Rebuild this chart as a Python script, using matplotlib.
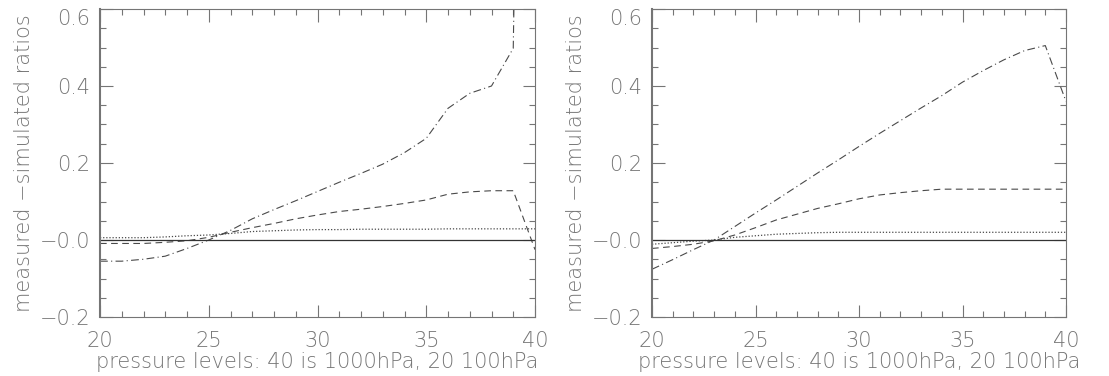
import numpy as np
import matplotlib
matplotlib.use("Agg")
import matplotlib.pyplot as plt
from matplotlib.ticker import MultipleLocator, FixedLocator, FixedFormatter

plt.rcParams["font.weight"] = 200
plt.rcParams["axes.labelweight"] = 200

# niveles de presion (40 = 1000hPa, 20 = 100hPa)
niveles = np.arange(20, 41)

# panel izquierdo
izq_dashdot = [-0.055, -0.055, -0.050, -0.042, -0.022, 0.000, 0.025, 0.055, 0.079, 0.102,
               0.126, 0.150, 0.173, 0.197, 0.227, 0.264, 0.342, 0.381, 0.400, 0.498, 4.0]
izq_dashed = [-0.009, -0.009, -0.009, -0.006, -0.002, 0.007, 0.020, 0.032, 0.043, 0.055,
              0.065, 0.074, 0.080, 0.087, 0.095, 0.104, 0.119, 0.125, 0.128, 0.128, -0.025]
izq_dotted = [0.006, 0.006, 0.006, 0.008, 0.011, 0.013, 0.017, 0.022, 0.024, 0.026,
              0.027, 0.027, 0.028, 0.028, 0.028, 0.028, 0.029, 0.029, 0.029, 0.029, 0.029]

# panel derecho
der_dashdot = [-0.076, -0.051, -0.025, 0.000, 0.035, 0.070, 0.104, 0.139, 0.174, 0.208,
               0.243, 0.277, 0.310, 0.343, 0.375, 0.410, 0.440, 0.468, 0.492, 0.505, 0.360]
der_dashed = [-0.022, -0.017, -0.011, -0.002, 0.013, 0.032, 0.052, 0.067, 0.082, 0.094,
              0.107, 0.117, 0.123, 0.128, 0.132, 0.132, 0.132, 0.132, 0.132, 0.132, 0.132]
der_dotted = [-0.011, -0.007, -0.003, 0.000, 0.007, 0.011, 0.015, 0.017, 0.019, 0.020,
              0.020, 0.020, 0.020, 0.020, 0.020, 0.020, 0.020, 0.020, 0.020, 0.020, 0.020]

y_ticks = [-0.2, 0.0, 0.2, 0.4, 0.6]
y_labels = ["\u22120.2", "\u22120.0", "0.2", "0.4", "0.6"]
x_ticks = [20, 25, 30, 35, 40]

gris_texto = "#757575"
gris_linea = "#4a4a4a"

fig = plt.figure(figsize=(11.09, 3.76), dpi=100)
ax1 = fig.add_axes([100 / 1109, 59 / 376, 435 / 1109, 308 / 376])
ax2 = fig.add_axes([652 / 1109, 59 / 376, 414 / 1109, 308 / 376])

for ax, dd, da, do in [(ax1, izq_dashdot, izq_dashed, izq_dotted),
                       (ax2, der_dashdot, der_dashed, der_dotted)]:
    ax.plot(niveles, dd, color=gris_linea, lw=0.8, dashes=(7, 3, 1, 3))
    ax.plot(niveles, da, color=gris_linea, lw=0.8, dashes=(6, 4))
    ax.plot(niveles, do, color=gris_linea, lw=0.9, dashes=(1, 1.5))
    ax.axhline(0, color="#333333", lw=0.9)

    ax.set_xlim(20, 40)
    ax.set_ylim(-0.2, 0.6)
    ax.xaxis.set_major_locator(FixedLocator(x_ticks))
    ax.xaxis.set_minor_locator(MultipleLocator(1))
    ax.yaxis.set_major_locator(FixedLocator(y_ticks))
    ax.yaxis.set_major_formatter(FixedFormatter(y_labels))
    ax.yaxis.set_minor_locator(MultipleLocator(0.05))
    ax.tick_params(which="both", direction="in", top=True, right=True,
                   color=gris_texto, labelcolor=gris_texto, labelsize=15, width=0.8)
    ax.tick_params(which="major", length=9)
    ax.tick_params(axis="x", which="major", pad=10)
    ax.tick_params(axis="y", which="major", pad=7)
    ax.tick_params(which="minor", length=4.5)
    for s in ax.spines.values():
        s.set_color(gris_texto)
        s.set_linewidth(0.8)
    ax.spines["left"].set_linewidth(1.5)
    ax.set_xlabel("pressure levels: 40 is 1000hPa, 20 100hPa",
                  color=gris_texto, fontsize=15, fontweight=200, labelpad=1)
    ax.set_ylabel("measured \u2212simulated ratios", color=gris_texto, fontsize=15,
                  fontweight=200, labelpad=4)

    # la etiqueta 0.6 queda por debajo del borde superior, como en el original
    fig.canvas.draw()
    ax.get_yticklabels()[-1].set_va("top")

fig.savefig("out.png", dpi=100)
